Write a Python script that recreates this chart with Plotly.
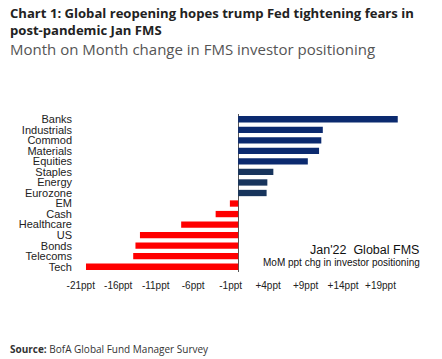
import plotly.graph_objects as go

categories = ["Banks", "Industrials", "Commod", "Materials", "Equities", "Staples",
              "Energy", "Eurozone", "EM", "Cash", "Healthcare", "US", "Bonds",
              "Telecoms", "Tech"]
values = [21.3, 11.3, 11.1, 10.8, 9.3, 4.7, 3.9, 3.8, -1.1, -3.0, -7.6, -13.1, -13.7, -14.0, -20.3]
tick_vals = [-21, -16, -11, -6, -1, 4, 9, 14, 19]
tick_text = ["-21ppt", "-16ppt", "-11ppt", "-6ppt", "-1ppt", "+4ppt", "+9ppt", "+14ppt", "+19ppt"]

colors = []
for i, v in enumerate(values):
    if v < 0:
        colors.append("#FF0000")
    elif i < 5:
        colors.append("#0B2A6F")
    else:
        colors.append("#17345C")

# page body has an 8px margin; compensate
OFF = 8
W, H = 442 - OFF, 359 - OFF
plot_left, plot_right = 77 - OFF, 403 - OFF
plot_top, plot_bottom = 114 - OFF, 272.5 - OFF

fig = go.Figure(go.Bar(
    x=values, y=categories, orientation="h",
    marker=dict(color=colors, line=dict(width=0)),
    width=0.6,
))

fig.update_layout(
    width=W, height=H,
    margin=dict(l=plot_left, r=W - plot_right, t=plot_top, b=H - plot_bottom, pad=0, autoexpand=False),
    paper_bgcolor="white", plot_bgcolor="white",
    showlegend=False,
    font=dict(family="Liberation Sans Narrow, Arial Narrow, Liberation Sans", size=10, color="#222"),
    xaxis=dict(range=[-21.5, 22], tickvals=tick_vals, ticktext=tick_text,
               showgrid=False, zeroline=True, zerolinecolor="#555", zerolinewidth=1,
               showline=False, ticks="", ticklabelstandoff=6,
               tickfont=dict(size=10, color="#222")),
    yaxis=dict(autorange="reversed", showgrid=False, showline=False, ticks="",
               tickmode="array", tickvals=categories,
               ticklabelstandoff=4, tickfont=dict(size=11, color="#222")),
)

def px_to_paper(x, y):
    x -= OFF
    y -= OFF
    return (x - plot_left) / (plot_right - plot_left), 1 - (y - plot_top) / (plot_bottom - plot_top)

ann_specs = [
    ("<b>Chart 1: Global reopening hopes trump Fed tightening fears in</b>",
     8.5, 13, "left", "middle", dict(family="Open Sans", size=13.1, color="#222")),
    ("<b>post-pandemic Jan FMS</b>",
     8.5, 29.5, "left", "middle", dict(family="Open Sans", size=13.1, color="#222")),
    ("Month on Month change in FMS investor positioning",
     8.5, 49, "left", "middle", dict(family="Open Sans", size=15, color="#555")),
    ("Jan'22  Global FMS", 420, 250, "right", "middle",
     dict(family="Liberation Sans Narrow, Liberation Sans", size=12.5, color="#111")),
    ("MoM ppt chg in investor positioning", 421, 263, "right", "middle",
     dict(family="Liberation Sans Narrow, Liberation Sans", size=10, color="#111")),
    ("<b>Source:</b> BofA Global Fund Manager Survey", 8.5, 350, "left", "middle",
     dict(family="Open Sans", size=10, color="#333")),
]
anns = []
for text, x, y, xa, ya, f in ann_specs:
    px, py = px_to_paper(x, y)
    anns.append(dict(text=text, xref="paper", yref="paper", x=px, y=py, borderpad=0,
                     xanchor=xa, yanchor=ya, showarrow=False, align="left", font=f))
fig.update_layout(annotations=anns)

fig.write_html("out.html")
